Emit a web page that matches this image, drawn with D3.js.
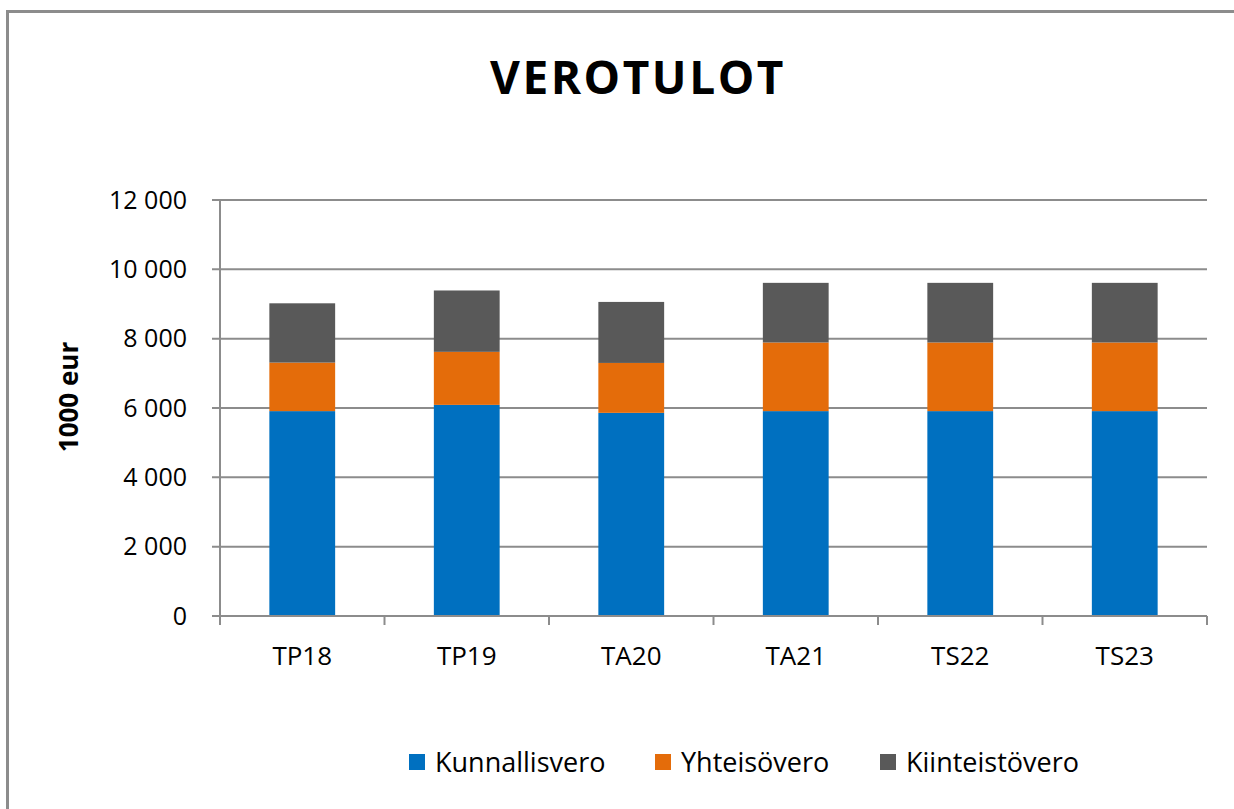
<!DOCTYPE html>
<html>
<head>
<meta charset="utf-8">
<script src="https://cdn.jsdelivr.net/npm/d3@7"></script>
<style>
  body { margin: 0; background: #fff; }
  text { font-family: "Open Sans", sans-serif; fill: #000; }
</style>
</head>
<body>
<div id="chart"></div>
<script>
// data (1000 eur)
var years = ["TP18", "TP19", "TA20", "TA21", "TS22", "TS23"];
var kunnallisvero = [5910, 6090, 5860, 5910, 5910, 5910];
var yhteisovero = [1400, 1530, 1440, 1980, 1980, 1980];
var kiinteistovero = [1710, 1770, 1760, 1720, 1720, 1720];
var seriesNames = ["Kunnallisvero", "Yhteisövero", "Kiinteistövero"];
var seriesColors = ["#0070c0", "#e46c0a", "#595959"];
var yTicks = [0, 2000, 4000, 6000, 8000, 10000, 12000];

var W = 1234, H = 809;
var svg = d3.select("#chart").append("svg").attr("width", W).attr("height", H);

// chart frame (only left and top edges visible in the crop)
svg.append("path")
    .attr("d", "M7.5," + H + "V11.5H" + W)
    .attr("fill", "none")
    .attr("stroke", "#8c8c8c")
    .attr("stroke-width", 3);

svg.append("text")
    .attr("x", 638).attr("y", 94)
    .attr("text-anchor", "middle")
    .attr("font-size", 46)
    .attr("font-weight", "bold")
    .attr("letter-spacing", 2.5)
    .text("VEROTULOT");

var margin = {top: 200, left: 220, right: 1234 - 1207, bottom: 809 - 616},
    width = W - margin.left - margin.right,
    height = H - margin.top - margin.bottom,
    g = svg.append("g").attr("transform", "translate(" + margin.left + "," + margin.top + ")");

var rows = years.map(function(y, i) {
    return {year: y, s0: kunnallisvero[i], s1: yhteisovero[i], s2: kiinteistovero[i]};
});
var stack = d3.stack().keys(["s0", "s1", "s2"])(rows);

var x = d3.scaleBand().domain(years).range([0, width]).paddingInner(0.6).paddingOuter(0.3);
var y = d3.scaleLinear().domain([0, 12000]).range([height, 0]);

var fi = d3.formatLocale({decimal: ",", thousands: "\u00a0", grouping: [3], currency: ["", "€"]});

// gridlines (with the little outside tick)
g.append("g").selectAll("line")
    .data(yTicks)
    .enter().append("line")
    .attr("x1", -8).attr("x2", width)
    .attr("y1", function(d) { return y(d); })
    .attr("y2", function(d) { return y(d); })
    .attr("stroke", "#8c8c8c")
    .attr("stroke-width", 2);

// y axis
var yAxis = g.append("g")
    .call(d3.axisLeft(y).tickValues(yTicks).tickFormat(fi.format(",")).tickSize(0).tickPadding(33));
yAxis.select(".domain").remove();
yAxis.selectAll("text").attr("font-size", 25).attr("fill", "#000").style("font-family", "Open Sans");

g.append("line")
    .attr("x1", 0).attr("x2", 0).attr("y1", 0).attr("y2", height)
    .attr("stroke", "#8c8c8c").attr("stroke-width", 2);

// bars
g.selectAll(".serie")
    .data(stack)
    .enter().append("g")
    .attr("fill", function(d, i) { return seriesColors[i]; })
    .selectAll("rect")
    .data(function(d) { return d; })
    .enter().append("rect")
    .attr("x", function(d) { return x(d.data.year); })
    .attr("width", x.bandwidth())
    .attr("y", function(d) { return y(d[1]); })
    .attr("height", function(d) { return y(d[0]) - y(d[1]); });

// x axis: labels centered, ticks on band boundaries
var xAxis = g.append("g")
    .attr("transform", "translate(0," + height + ")")
    .call(d3.axisBottom(x).tickSize(0).tickPadding(31));
xAxis.select(".domain").remove();
xAxis.selectAll("text").attr("font-size", 26).attr("fill", "#000").style("font-family", "Open Sans");

var bounds = d3.range(years.length + 1).map(function(i) { return i * x.step(); });
g.append("g").selectAll("line")
    .data(bounds)
    .enter().append("line")
    .attr("x1", function(d) { return d; }).attr("x2", function(d) { return d; })
    .attr("y1", height).attr("y2", height + 9)
    .attr("stroke", "#8c8c8c").attr("stroke-width", 2);
g.append("line")
    .attr("x1", 0).attr("x2", width).attr("y1", height).attr("y2", height)
    .attr("stroke", "#8c8c8c").attr("stroke-width", 2);

// y title
svg.append("text")
    .attr("transform", "translate(78,397) rotate(-90)")
    .attr("text-anchor", "middle")
    .attr("font-size", 26)
    .attr("font-weight", "bold")
    .text("1000 eur");

// legend
var legendX = [409, 655, 880];
var legend = svg.append("g").selectAll("g")
    .data(seriesNames)
    .enter().append("g")
    .attr("transform", function(d, i) { return "translate(" + legendX[i] + ",754)"; });
legend.append("rect")
    .attr("width", 16).attr("height", 16)
    .attr("fill", function(d, i) { return seriesColors[i]; });
legend.append("text")
    .attr("x", 26).attr("y", 18)
    .attr("font-size", 27)
    .text(function(d) { return d; });
</script>
</body>
</html>
